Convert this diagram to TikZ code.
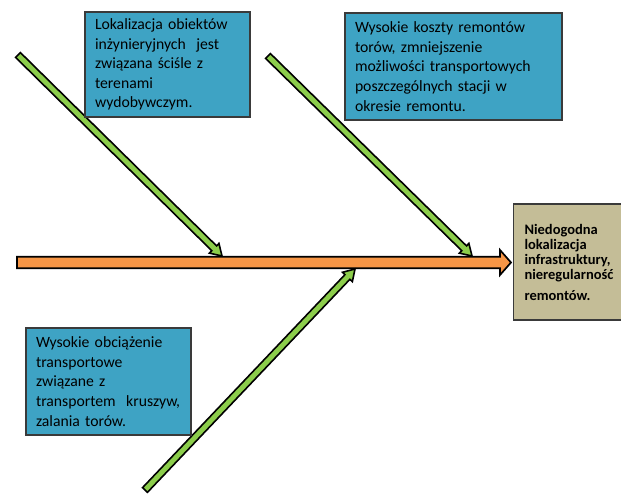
\documentclass[tikz,border=0pt]{standalone}
\usepackage{fontspec}
\setmainfont{Carlito}
\usetikzlibrary{calc}
\definecolor{boxblue}{RGB}{62,163,196}
\definecolor{effecttan}{RGB}{196,189,151}
\definecolor{bonegreen}{RGB}{140,205,75}
\definecolor{spineorange}{RGB}{247,150,70}
\definecolor{boxedge}{RGB}{58,58,58}
% #1 style, #2 start, #3 tip, #4 shaft half width, #5 head length, #6 head half width
\newcommand{\fatarr}[6]{%
  \path ($(#3)!#5!(#2)$) coordinate (famid);
  \draw[#1] ($(#2)!#4!90:(#3)$) -- ($(famid)!#4!90:(#3)$) -- ($(famid)!#6!90:(#3)$) -- (#3)
    -- ($(famid)!#6!-90:(#3)$) -- ($(famid)!#4!-90:(#3)$) -- ($(#2)!#4!-90:(#3)$) -- cycle;
}
\tikzset{
  causebox/.style={draw=boxedge, line width=1.1pt, fill=boxblue, rectangle, inner xsep=10pt,
    align=left, font=\fontsize{15.7}{19.6}\selectfont, text=black},
  effectbox/.style={draw=boxedge, line width=1.1pt, fill=effecttan, rectangle, inner xsep=11pt,
    align=left, font=\fontsize{14.5}{15}\selectfont\bfseries, text=black},
  spinestyle/.style={draw=black, line width=1.7pt, fill=spineorange, line join=miter},
  bonestyle/.style={draw=black, line width=1.6pt, fill=bonegreen, line join=miter}
}
\begin{document}
\begin{tikzpicture}[x=1pt,y=-1pt]
\useasboundingbox (0,0) rectangle (621,497);
\clip (0,0) rectangle (621,497);

\node[effectbox, anchor=west, text width=100pt, minimum height=116pt] (effect) at (513,262)
  {Niedogodna\\lokalizacja\\infrastruktury,\\nieregularność\\[6pt]remontów.};

\coordinate (spinestart) at (17,262.5);
\coordinate (spineend) at ($(effect.west)+(-2,0.5)$);
\fatarr{spinestyle}{spinestart}{spineend}{5.8pt}{11pt}{12.5pt}

\coordinate (b1s) at (18,55);
\coordinate (b1e) at (222,256);
\coordinate (b2s) at (268,56);
\coordinate (b2e) at (472,256);
\coordinate (b3s) at (145,490);
\coordinate (b3e) at (355,269);
\fatarr{bonestyle}{b1s}{b1e}{3.4pt}{11pt}{6.8pt}
\fatarr{bonestyle}{b2s}{b2e}{3.4pt}{11pt}{6.8pt}
\fatarr{bonestyle}{b3s}{b3e}{3.4pt}{11pt}{6.8pt}

\node[causebox, text width=145pt, minimum height=105pt] (cause1) at (167.5,64.5)
  {Lokalizacja obiektów\\inżynieryjnych\ \ jest\\związana ściśle z\\terenami\\wydobywczym.};
\node[causebox, text width=197pt, minimum height=107pt] (cause2) at (453.5,66.5)
  {Wysokie koszty remontów\\torów, zmniejszenie\\możliwości transportowych\\poszczególnych stacji w\\okresie remontu.};
\node[causebox, text width=145pt, minimum height=107pt] (cause3) at (108.5,381.5)
  {Wysokie obciążenie\\transportowe\\związane z\\transportem\ \ kruszyw,\\zalania torów.};
\end{tikzpicture}
\end{document}
